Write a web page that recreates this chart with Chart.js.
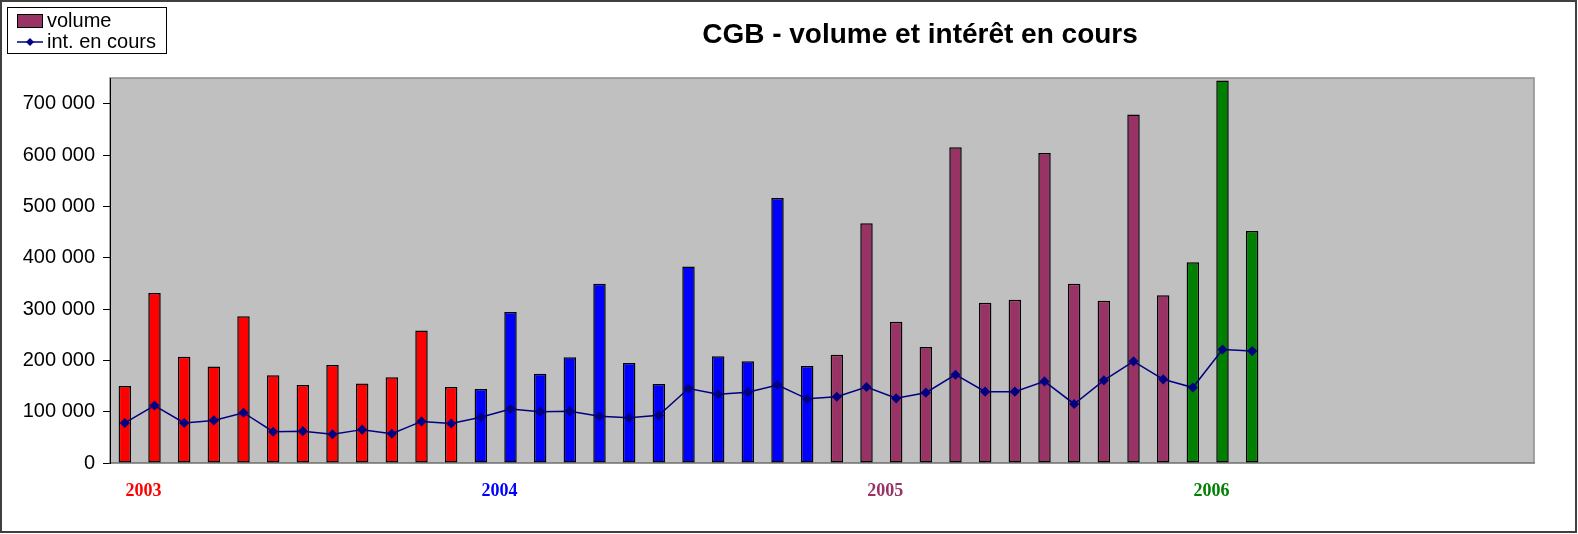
<!DOCTYPE html>
<html>
<head>
<meta charset="utf-8">
<script src="https://cdn.jsdelivr.net/npm/chart.js@4.4.1/dist/chart.umd.min.js"></script>
<style>
  body { margin: 0; background: #fff; }
  #wrap { width: 1578px; height: 534px; }
</style>
</head>
<body>
<div id="wrap"><canvas id="myChart" width="1578" height="534"></canvas></div>
<script>
const months = [
  '01/2003','02/2003','03/2003','04/2003','05/2003','06/2003','07/2003','08/2003','09/2003','10/2003','11/2003','12/2003',
  '01/2004','02/2004','03/2004','04/2004','05/2004','06/2004','07/2004','08/2004','09/2004','10/2004','11/2004','12/2004',
  '01/2005','02/2005','03/2005','04/2005','05/2005','06/2005','07/2005','08/2005','09/2005','10/2005','11/2005','12/2005',
  '01/2006','02/2006','03/2006','04/2006','05/2006','06/2006','07/2006','08/2006','09/2006','10/2006','11/2006','12/2006'
];
const years = ['2003', '2004', '2005', '2006'];
// mois sous lesquels l'année est écrite
const yearAt = [1, 13, 26, 37];
const yearColors = ['#ff0000', '#0000ff', '#993366', '#008000'];

const volume = [
  150000, 331000, 207000, 188000, 286000, 171000, 152000, 191000, 155000, 167000, 258000, 148000,
  144000, 294000, 174000, 206000, 349000, 195000, 154000, 383000, 208000, 198000, 516000, 189000,
  211000, 467000, 275000, 226000, 615000, 312000, 318000, 604000, 349000, 316000, 679000, 327000,
  391000, 745000, 452000
];
const interet = [
  78000, 112000, 78000, 83000, 98000, 61000, 62000, 56000, 65000, 57000, 81000, 77000,
  89000, 105000, 100000, 101000, 91000, 88000, 93000, 145000, 134000, 138000, 152000, 125000,
  129000, 148000, 126000, 137000, 172000, 139000, 139000, 159000, 115000, 161000, 198000, 163000,
  147000, 221000, 218000
];
const yTicks = [0, 100000, 200000, 300000, 400000, 500000, 600000, 700000];
const chartTitle = 'CGB - volume et intérêt en cours';

Chart.defaults.font.family = '"Liberation Sans", Arial, sans-serif';
Chart.defaults.color = '#000';

function formatNumber(v) {
  return String(v).replace(/\B(?=(\d{3})+(?!\d))/g, ' ');
}

const decor = {
  id: 'decor',
  beforeDraw(chart) {
    const ctx = chart.ctx;
    const a = chart.chartArea;
    ctx.save();
    ctx.fillStyle = '#fff';
    ctx.fillRect(0, 0, chart.width, chart.height);
    ctx.fillStyle = '#c0c0c0';
    ctx.fillRect(a.left, a.top, a.right - a.left, a.bottom - a.top);
    ctx.strokeStyle = '#8c8c8c';
    ctx.lineWidth = 1.5;
    ctx.strokeRect(a.left, a.top, a.right - a.left, a.bottom - a.top);
    ctx.restore();
  },
  afterDraw(chart) {
    const ctx = chart.ctx;
    ctx.save();
    // cadre
    ctx.strokeStyle = '#404040';
    ctx.lineWidth = 2;
    ctx.strokeRect(1, 1, chart.width - 3, chart.height - 3);
    // titre
    ctx.fillStyle = '#000';
    ctx.font = 'bold 28px "Liberation Sans", Arial, sans-serif';
    ctx.textAlign = 'center';
    ctx.textBaseline = 'middle';
    ctx.fillText(chartTitle, 920, 35);
    // légende
    const ds = chart.data.datasets;
    ctx.fillStyle = '#fff';
    ctx.fillRect(7.5, 7.5, 159, 46);
    ctx.strokeStyle = '#000';
    ctx.lineWidth = 1;
    ctx.strokeRect(7.5, 7.5, 159, 46);
    ctx.fillStyle = '#993366';
    ctx.fillRect(17.5, 14.5, 25, 13);
    ctx.strokeRect(17.5, 14.5, 25, 13);
    ctx.strokeStyle = ds[1].borderColor;
    ctx.lineWidth = 1.5;
    ctx.beginPath();
    ctx.moveTo(17, 42);
    ctx.lineTo(43, 42);
    ctx.stroke();
    ctx.fillStyle = ds[1].pointBackgroundColor;
    ctx.beginPath();
    ctx.moveTo(30, 38);
    ctx.lineTo(34, 42);
    ctx.lineTo(30, 46);
    ctx.lineTo(26, 42);
    ctx.closePath();
    ctx.fill();
    ctx.fillStyle = '#000';
    ctx.font = '20px "Liberation Sans", Arial, sans-serif';
    ctx.textAlign = 'left';
    ctx.textBaseline = 'middle';
    ctx.fillText(ds[0].label, 47, 21);
    ctx.fillText(ds[1].label, 47, 42);
    ctx.restore();
  }
};

const myChart = new Chart(document.getElementById('myChart'), {
  type: 'bar',
  data: {
    labels: months,
    datasets: [{
      type: 'bar',
      label: 'volume',
      data: volume,
      order: 2,
      backgroundColor: ctx => yearColors[Math.floor(ctx.dataIndex / 12)],
      borderColor: '#000',
      borderWidth: 1.5,
      borderSkipped: false,
      barPercentage: 0.42,
      categoryPercentage: 1
    }, {
      type: 'line',
      label: 'int. en cours',
      data: interet,
      order: 1,
      borderColor: '#000080',
      backgroundColor: '#000080',
      pointBackgroundColor: '#000080',
      pointBorderColor: '#000080',
      borderWidth: 1.5,
      pointStyle: 'rectRot',
      pointRadius: 4,
      tension: 0
    }]
  },
  options: {
    responsive: false,
    animation: false,
    layout: { padding: { top: 78, right: 44, bottom: 0, left: 0 } },
    plugins: {
      legend: { display: false },
      title: { display: false },
      tooltip: { enabled: false }
    },
    scales: {
      x: {
        afterFit: scale => { scale.height = 71; },
        grid: { display: false, drawTicks: false },
        border: { display: true, color: '#808080', width: 1.5 },
        ticks: {
          autoSkip: false,
          maxRotation: 0,
          padding: 18,
          labelOffset: -11,
          font: { family: '"Liberation Serif", "Times New Roman", serif', size: 18, weight: 'bold' },
          color: ctx => yearColors[yearAt.indexOf(ctx.index)] || '#000',
          callback: (value, index) => {
            const k = yearAt.indexOf(index);
            return k >= 0 ? years[k] : '';
          }
        }
      },
      y: {
        min: 0,
        max: 750000,
        afterFit: scale => { scale.width = 110; },
        afterBuildTicks: scale => { scale.ticks = yTicks.map(v => ({ value: v })); },
        grid: { drawOnChartArea: false, color: '#000', tickLength: 7 },
        border: { display: true, color: '#000', width: 1 },
        ticks: {
          padding: 8,
          font: { size: 20 },
          callback: v => formatNumber(v)
        }
      }
    }
  },
  plugins: [decor]
});
</script>
</body>
</html>
